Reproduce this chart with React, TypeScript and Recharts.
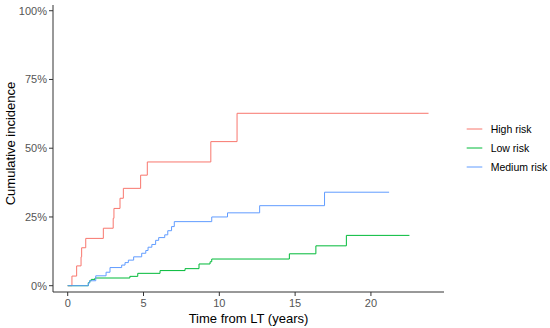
import React from "react";
import { LineChart, Line, XAxis, YAxis } from "recharts";

const seriesNames = ["High risk", "Low risk", "Medium risk"];
const seriesColors = ["#F8766D", "#00BA38", "#619CFF"];

const highTime = [0, 0.28, 0.59, 0.88, 0.92, 1.19, 2.35, 3.0, 3.05, 3.45, 3.67, 4.81, 5.25, 9.44, 11.17, 23.8];
const highInc = [0, 3.5, 7.2, 10.5, 13.8, 17.2, 20.9, 24.5, 28.1, 31.8, 35.4, 40.2, 45.0, 52.4, 62.7, 62.7];

const lowTime = [0, 1.36, 1.45, 1.55, 1.8, 4.1, 4.62, 6.09, 7.74, 8.66, 9.39, 9.5, 14.62, 16.37, 18.38, 22.54];
const lowInc = [0, 1.1, 1.8, 2.3, 2.8, 3.4, 4.5, 5.5, 6.2, 7.9, 8.7, 9.7, 11.6, 14.5, 18.3, 18.3];

const medTime = [0, 1.36, 1.45, 1.85, 2.53, 2.79, 3.56, 3.78, 4.0, 4.35, 4.88, 5.15, 5.3, 5.55, 5.8, 6.0, 6.4, 6.6, 6.85, 7.03, 9.5, 10.54, 12.66, 16.94, 21.2];
const medInc = [0, 1.0, 1.8, 3.6, 4.9, 6.6, 7.5, 8.4, 9.3, 10.5, 11.8, 12.8, 14.0, 15.0, 16.5, 17.5, 18.5, 20.0, 21.5, 23.3, 25.0, 26.5, 29.1, 34.0, 34.0];

const xTicks = [0, 5, 10, 15, 20];
const yTicks = [0, 25, 50, 75, 100];

const toData = (t: number[], v: number[]) => t.map((x, i) => ({ t: x, v: v[i] }));
const seriesData = [toData(highTime, highInc), toData(lowTime, lowInc), toData(medTime, medInc)];

const FONT = "'Liberation Sans', Arial, sans-serif";

const YTitle = (props: any) => {
  const vb = props.viewBox || {};
  const cx = 10.5;
  const cy = vb.y + vb.height / 2 - 5;
  return (
    <text
      x={cx}
      y={cy}
      transform={`rotate(-90, ${cx}, ${cy})`}
      textAnchor="middle"
      dominantBaseline="central"
      fontSize={13}
      fill="#000"
      fontFamily={FONT}
    >
      Cumulative incidence
    </text>
  );
};

export default function App() {
  return (
    <div style={{ position: "absolute", left: 0, top: 0, width: 550, height: 328, background: "#fff" }}>
      <LineChart width={550} height={328} margin={{ top: 5, right: 106, left: 0, bottom: 0 }}>
        <XAxis
          type="number"
          dataKey="t"
          domain={[-0.97, 24.82]}
          allowDataOverflow
          ticks={xTicks}
          height={36}
          tickSize={4}
          tickMargin={3}
          stroke="#333"
          tick={{ fill: "#555", fontSize: 11, fontFamily: FONT }}
          label={{ value: "Time from LT (years)", position: "insideBottom", offset: 5, fill: "#000", fontSize: 13, fontFamily: FONT }}
        />
        <YAxis
          type="number"
          domain={[-2.29, 102.08]}
          allowDataOverflow
          ticks={yTicks}
          width={53}
          tickSize={4}
          tickMargin={2}
          stroke="#333"
          tickFormatter={(v: number) => `${v}%`}
          tick={{ fill: "#555", fontSize: 11, fontFamily: FONT }}
          label={<YTitle />}
        />
        {seriesData.map((d, i) => (
          <Line
            key={seriesNames[i]}
            data={d}
            dataKey="v"
            name={seriesNames[i]}
            type="stepAfter"
            stroke={seriesColors[i]}
            strokeWidth={1}
            dot={false}
            activeDot={false}
            isAnimationActive={false}
          />
        ))}
      </LineChart>
      <div style={{ position: "absolute", left: 462, top: 119, fontFamily: FONT, fontSize: 10.5, color: "#000" }}>
        {seriesNames.map((n, i) => (
          <div key={n} style={{ display: "flex", alignItems: "center", height: 19.4 }}>
            <svg width={24} height={10} style={{ display: "block" }}>
              <line x1={4.7} x2={20.3} y1={5} y2={5} stroke={seriesColors[i]} strokeWidth={1} />
            </svg>
            <span style={{ marginLeft: 4.7, whiteSpace: "nowrap" }}>{n}</span>
          </div>
        ))}
      </div>
    </div>
  );
}
